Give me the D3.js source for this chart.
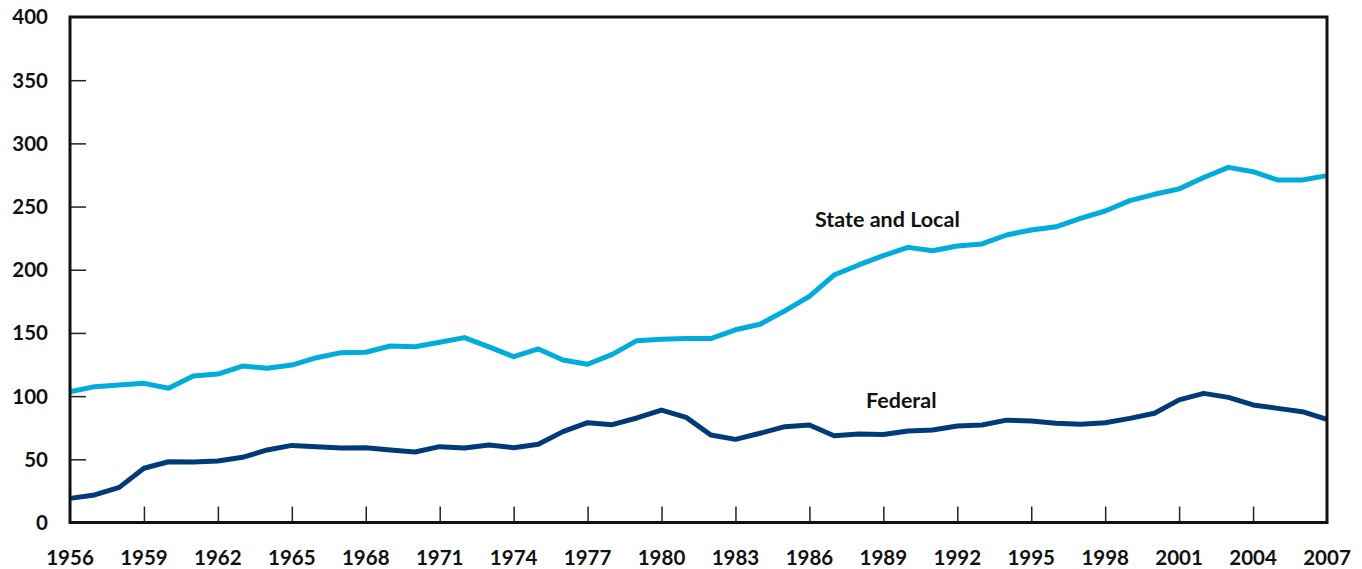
<!DOCTYPE html>
<html>
<head>
<meta charset="utf-8">
<script src="https://cdn.jsdelivr.net/npm/d3@7"></script>
<style>
  body { margin: 0; background: #fff; }
  svg { display: block; font-family: Lato, "Open Sans", sans-serif; font-weight: 700; }
</style>
</head>
<body>
<div id="chart"></div>
<script>
// years 1956..2007
const years = d3.range(1956, 2008);

const stateLocal = [
  103.5, 107.5, 108.8, 110.1, 106.2, 115.9, 117.5, 123.8, 122.0, 124.6,
  130.4, 134.4, 134.7, 139.7, 139.1, 142.6, 146.3, 139.0, 131.2, 137.3,
  128.6, 125.2, 133.0, 143.9, 145.0, 145.5, 145.5, 152.5, 156.9, 167.5,
  179.0, 195.8, 203.8, 211.2, 217.7, 215.0, 218.8, 220.4, 227.5, 231.5,
  234.0, 240.7, 246.5, 254.7, 259.7, 264.0, 273.0, 281.0, 277.6, 271.0,
  271.0, 274.5
];

const federal = [
  19.1, 21.8, 27.8, 42.9, 48.1, 47.9, 48.7, 51.6, 57.4, 61.0,
  60.0, 59.0, 59.2, 57.4, 55.8, 60.0, 58.9, 61.3, 59.2, 61.9,
  71.9, 79.0, 77.4, 82.7, 89.0, 83.2, 69.2, 65.8, 70.6, 75.8,
  77.1, 68.7, 70.0, 69.6, 72.4, 73.2, 76.4, 77.1, 81.0, 80.3,
  78.5, 77.7, 79.0, 82.4, 86.4, 97.0, 102.2, 99.0, 93.0, 90.3,
  87.7, 81.6
];

const xTicks = d3.range(1956, 2008, 3);
const yTicks = [0, 50, 100, 150, 200, 250, 300, 350, 400];

const width = 1362, height = 569;
const margin = { top: 17, right: 35, bottom: 46.5, left: 70 };

const svg = d3.select("#chart").append("svg")
  .attr("width", width)
  .attr("height", height);

const x = d3.scaleLinear()
  .domain([1956, 2007])
  .range([margin.left, width - margin.right]);

const y = d3.scaleLinear()
  .domain([0, 400])
  .range([height - margin.bottom, margin.top]);

// ticks inside the plot
svg.append("g")
  .attr("transform", `translate(0,${y(0)})`)
  .call(d3.axisTop(x).tickValues(xTicks.slice(1, -1)).tickSize(16).tickFormat(""))
  .call(g => g.select(".domain").remove())
  .selectAll("line").attr("stroke", "#222").attr("stroke-width", 1.5);

svg.append("g")
  .attr("transform", `translate(${x(1956)},0)`)
  .call(d3.axisRight(y).tickValues(yTicks.slice(1, -1)).tickSize(16).tickFormat(""))
  .call(g => g.select(".domain").remove())
  .selectAll("line").attr("stroke", "#222").attr("stroke-width", 1.5);

// tick labels
svg.append("g").selectAll("text")
  .data(xTicks)
  .join("text")
  .attr("x", d => x(d))
  .attr("y", 565)
  .attr("text-anchor", "middle")
  .attr("font-size", 20.5)
  .attr("fill", "#111")
  .text(d => d);

svg.append("g").selectAll("text")
  .data(yTicks)
  .join("text")
  .attr("x", 48)
  .attr("y", d => y(d))
  .attr("dy", "0.36em")
  .attr("text-anchor", "end")
  .attr("font-size", 20.5)
  .attr("fill", "#111")
  .text(d => d);

// lines
const line = d3.line()
  .x((d, i) => x(years[i]))
  .y(d => y(d));

svg.append("path")
  .datum(stateLocal)
  .attr("fill", "none")
  .attr("stroke", "#00acd9")
  .attr("stroke-width", 5)
  .attr("stroke-linejoin", "round")
  .attr("d", line);

svg.append("path")
  .datum(federal)
  .attr("fill", "none")
  .attr("stroke", "#003a79")
  .attr("stroke-width", 5)
  .attr("stroke-linejoin", "round")
  .attr("d", line);

// frame
svg.append("rect")
  .attr("x", x(1956))
  .attr("y", y(400))
  .attr("width", x(2007) - x(1956))
  .attr("height", y(0) - y(400))
  .attr("fill", "none")
  .attr("stroke", "#111")
  .attr("stroke-width", 3);

// labels
svg.append("text")
  .attr("x", 815)
  .attr("y", 227)
  .attr("font-size", 21.5)
  .attr("fill", "#111")
  .text("State and Local");

svg.append("text")
  .attr("x", 866)
  .attr("y", 408)
  .attr("font-size", 21.5)
  .attr("fill", "#111")
  .text("Federal");
</script>
</body>
</html>
